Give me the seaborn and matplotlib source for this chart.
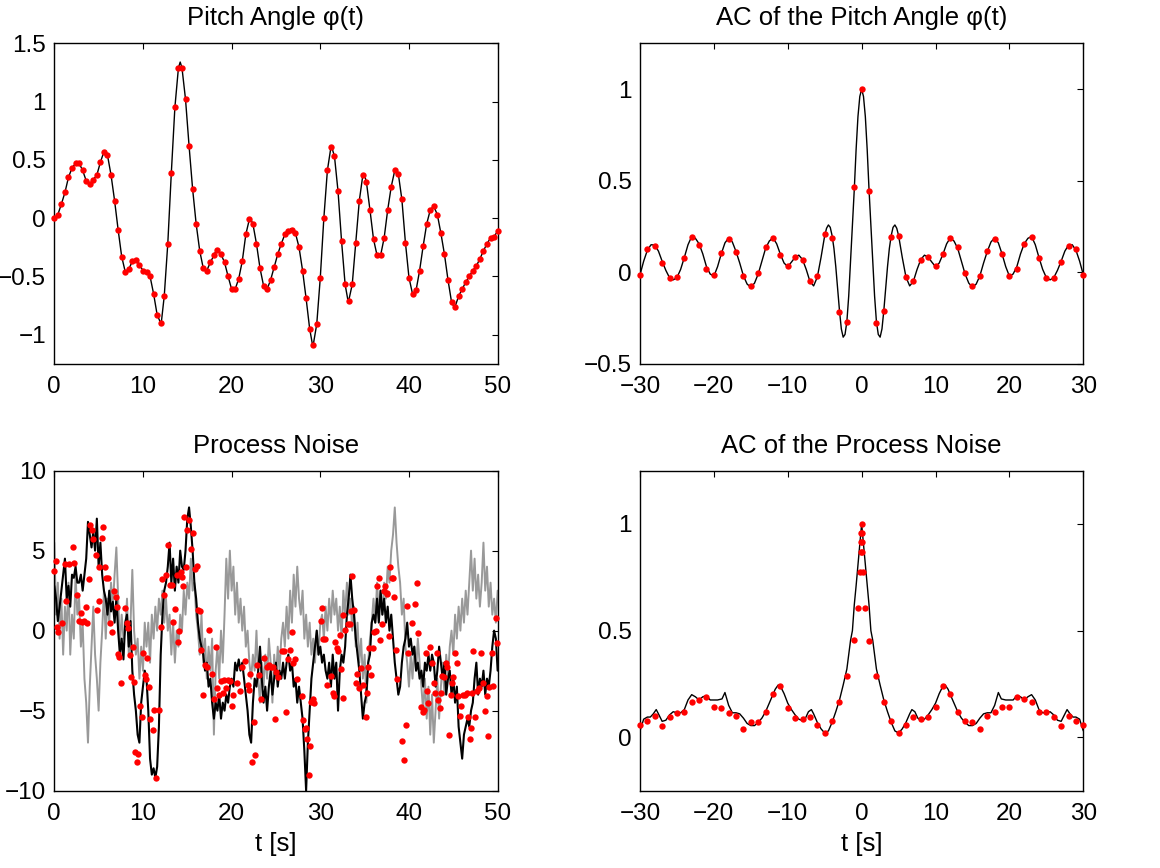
import numpy as np
import matplotlib
matplotlib.use("Agg")
import matplotlib.pyplot as plt
from matplotlib.ticker import FuncFormatter, FixedLocator
import seaborn as sns

# ---------------- data ----------------
# Pitch angle: red samples every 0.4 s (rows of 2 s)
pitch_dot_rows = [
    [0.00, 0.03, 0.12, 0.22, 0.35],
    [0.43, 0.47, 0.47, 0.41, 0.32],
    [0.29, 0.33, 0.37, 0.48, 0.57],
    [0.54, 0.37, 0.15, -0.10, -0.33],
    [-0.46, -0.44, -0.37, -0.36, -0.40],
    [-0.45, -0.46, -0.50, -0.65, -0.83],
    [-0.90, -0.67, -0.22, 0.39, 0.95],
    [1.29, 1.29, 1.02, 0.62, 0.25],
    [-0.05, -0.28, -0.43, -0.45, -0.38],
    [-0.32, -0.27, -0.31, -0.38, -0.50],
    [-0.61, -0.61, -0.52, -0.37, -0.14],
    [-0.01, -0.05, -0.22, -0.43, -0.58],
    [-0.61, -0.53, -0.42, -0.31, -0.22],
    [-0.14, -0.11, -0.10, -0.13, -0.25],
    [-0.45, -0.69, -0.95, -1.09, -0.91],
    [-0.51, 0.00, 0.41, 0.61, 0.53],
    [0.23, -0.20, -0.57, -0.71, -0.57],
    [-0.21, 0.15, 0.37, 0.31, 0.07],
    [-0.18, -0.32, -0.32, -0.17, 0.07],
    [0.27, 0.41, 0.38, 0.16, -0.21],
    [-0.51, -0.65, -0.62, -0.45, -0.24],
    [-0.05, 0.07, 0.10, 0.03, -0.13],
    [-0.31, -0.53, -0.72, -0.76, -0.67],
    [-0.61, -0.55, -0.50, -0.45, -0.41],
    [-0.35, -0.28, -0.22, -0.17, -0.16],
    [-0.11],
]
pitch_dot_step = 0.4
# extra points of the continuous curve (its extrema between samples)
pitch_peak_t = [2.6, 5.75, 9.1, 12.05, 14.2, 18.3, 20.2, 22.1, 23.9, 26.7,
                29.15, 31.25, 33.15, 34.95, 36.6, 38.55, 40.55, 42.75, 45.1]
pitch_peak_v = [0.48, 0.58, -0.37, -0.91, 1.34, -0.27, -0.62, 0.0, -0.62, -0.09,
                -1.10, 0.62, -0.72, 0.38, -0.33, 0.42, -0.66, 0.10, -0.765]

# AC of pitch angle: red samples at integer lags
ac_phi_dot_t = list(range(-30, 31))
ac_phi_dot_v = [
    -0.015, 0.127, 0.145, 0.05, -0.033, -0.027, 0.078, 0.19, 0.15, 0.015,
    -0.015, 0.105, 0.18, 0.11, -0.02, -0.078, -0.004, 0.14, 0.185, 0.095,
    0.036, 0.082, 0.067, -0.05, -0.022, 0.207, 0.187, -0.218, -0.273, 0.464,
    1.0,
    0.445, -0.278, -0.21, 0.193, 0.2, -0.027, -0.05, 0.069, 0.082, 0.036,
    0.098, 0.185, 0.136, -0.007, -0.078, -0.02, 0.113, 0.18, 0.1, -0.02,
    0.018, 0.155, 0.19, 0.076, -0.03, -0.03, 0.055, 0.145, 0.124, -0.018,
]
# AC of pitch angle: continuous curve
ac_phi_line_t = [
    -30, -29.5, -29, -28.5, -28, -27.5, -27, -26.5, -26, -25.5, -25, -24.5, -24,
    -23.5, -23, -22.5, -22, -21.5, -21, -20.5, -20, -19.5, -19, -18.5, -18,
    -17.5, -17, -16.5, -16, -15.5, -15, -14.5, -14, -13.5, -13, -12.5, -12,
    -11.5, -11, -10.5, -10, -9.5, -9, -8.5, -8, -7.5, -7, -6.5, -6, -5.5, -5,
    -4.75, -4.5, -4.25, -4, -3.75, -3.5, -3.25, -3, -2.75, -2.5, -2.25, -2,
    -1.75, -1.5, -1.25, -1, -0.75, -0.5, -0.25, 0,
    0.25, 0.5, 0.75, 1, 1.25, 1.5, 1.75, 2, 2.25, 2.5, 2.75, 3, 3.25, 3.5,
    3.75, 4, 4.25, 4.5, 4.75, 5, 5.5, 6, 6.5, 7, 7.5, 8, 8.5, 9, 9.5, 10,
    10.5, 11, 11.5, 12, 12.5, 13, 13.5, 14, 14.5, 15, 15.5, 16, 16.5, 17,
    17.5, 18, 18.5, 19, 19.5, 20, 20.5, 21, 21.5, 22, 22.5, 23, 23.5, 24,
    24.5, 25, 25.5, 26, 26.5, 27, 27.5, 28, 28.5, 29, 29.5, 30,
]
ac_phi_line_v = [
    -0.015, 0.06, 0.12, 0.15, 0.148, 0.115, 0.06, 0.01, -0.03, -0.042, -0.03,
    0.015, 0.08, 0.15, 0.195, 0.185, 0.155, 0.1, 0.03, -0.01, -0.022, 0.03,
    0.1, 0.16, 0.187, 0.165, 0.113, 0.05, -0.02, -0.065, -0.082, -0.06, -0.01,
    0.06, 0.13, 0.17, 0.188, 0.155, 0.098, 0.05, 0.03, 0.055, 0.082, 0.093,
    0.069, 0.015, -0.05, -0.075, -0.027, 0.08, 0.2,
    0.24, 0.258, 0.245, 0.2, 0.13, 0.03, -0.09, -0.21, -0.31, -0.355, -0.34,
    -0.27, -0.13, 0.06, 0.26, 0.45, 0.67, 0.85, 0.96, 1.0,
    0.96, 0.85, 0.67, 0.45, 0.26, 0.06, -0.13, -0.27, -0.34, -0.355, -0.31,
    -0.21, -0.09, 0.03, 0.13, 0.2, 0.245, 0.258, 0.24, 0.2, 0.08, -0.027,
    -0.075, -0.05, 0.015, 0.069, 0.093, 0.082, 0.055, 0.03, 0.05, 0.098, 0.155,
    0.188, 0.17, 0.13, 0.06, -0.01, -0.06, -0.082, -0.065, -0.02, 0.05, 0.113,
    0.165, 0.187, 0.16, 0.1, 0.03, -0.022, -0.01, 0.03, 0.1, 0.155, 0.185,
    0.195, 0.15, 0.08, 0.015, -0.03, -0.042, -0.03, 0.01, 0.06, 0.115, 0.148,
    0.15, 0.12, 0.06, -0.015,
]

# Process noise: curves sampled every 0.2 s (rows of 1 s)
noise_step = 0.2
noise_black_rows = [
    [2.8, 2.0, 0.6, 1.5, 2.5], [3.5, 4.5, 2.0, 2.8, 1.5], [3.5, 3.3, 4.0, 3.0, 3.0],
    [3.5, 2.5, 3.5, 4.5, 6.8], [6.0, 5.2, 6.2, 5.0, 7.0], [4.0, 5.5, 3.5, 2.5, 2.0],
    [1.0, 2.5, 1.2, 1.8, 0.5], [2.0, 0.0, -1.5, -0.5, -1.8], [0.5, 1.0, -1.0, 0.6, -2.5],
    [-4.0, -5.0, -6.5, -7.0, -4.5], [-3.5, -2.5, -3.0, -5.0, -8.0], [-9.0, -8.6, -9.2, -8.5, -6.0],
    [-1.5, 1.0, 2.5, 3.0, 4.0], [5.5, 3.0, 4.5, 2.5, 4.0], [3.0, 5.0, 4.0, 3.8, 5.0],
    [7.0, 7.7, 6.5, 5.0, 3.0], [2.0, 0.5, -0.5, -1.0, -1.5], [-2.5, -2.0, -3.5, -3.0, -4.5],
    [-5.5, -4.5, -5.0, -4.0, -5.5], [-4.5, -5.0, -4.0, -4.5, -3.5], [-3.0, -3.5, -2.0, -2.5, -1.8],
    [-2.5, -2.0, -3.0, -4.0, -5.0], [-6.5, -7.0, -4.5, -3.0, -3.5], [-2.5, -1.0, -3.0, -4.5, -3.5],
    [-5.0, -3.5, -2.5, -4.0, -3.0], [-2.0, -3.5, -2.5, -3.0, -2.0], [-3.0, -2.0, -1.5, -2.5, -2.0],
    [-3.5, -3.0, -4.5, -3.5, -4.5], [-5.5, -7.5, -10.0, -7.0, -5.0], [-3.0, -2.0, -1.0, 0.0, -1.5],
    [-1.0, -2.0, -1.5, -2.5, -3.0], [-2.0, -3.5, -1.5, -3.0, -2.0], [-5.0, -2.5, -1.5, -2.0, -1.0],
    [1.0, 2.0, 3.5, 2.0, 1.0], [-0.5, -1.5, -2.5, -4.0, -5.5], [-4.5, -4.0, -2.0, -1.5, 0.5],
    [1.0, 0.5, 2.0, 0.5, 2.5], [1.0, 2.0, 0.5, 1.5, 0.0], [1.0, -0.5, -2.0, -3.0, -4.0],
    [-3.5, -2.0, -1.0, -0.5, 0.5], [-1.0, -0.5, -1.5, -1.0, -2.5], [-2.0, -3.0, -2.5, -3.5, -2.0],
    [-2.5, -1.5, -2.5, -1.5, -2.0], [-3.5, -2.5, -1.0, -2.0, -3.0], [-2.0, -4.0, -3.0, -2.5, -4.0],
    [-3.0, -4.5, -3.5, -6.0, -7.0], [-8.0, -6.5, -6.0, -5.5, -6.0], [-5.0, -4.5, -3.0, -2.0, -4.0],
    [-3.0, -3.5, -2.5, -4.0, -3.0], [-3.5, -2.5, -1.0, 0.0, -0.5], [-2.5],
]
noise_gray_rows = [
    [5.5, 1.0, 3.0, -0.5, 2.0], [-1.5, 1.5, 0.0, 3.0, -1.5], [1.0, -0.5, 3.5, 1.0, 2.0],
    [-1.0, 0.5, -3.0, -4.5, -7.0], [-3.5, -1.0, 1.5, -1.5, -3.0], [-5.0, -2.0, 0.0, 2.5, -0.5],
    [2.0, 0.5, 3.0, 1.5, 3.5], [5.2, 2.0, -1.0, 1.0, -0.5], [0.0, 2.0, -1.5, 0.5, 3.8],
    [0.0, -1.5, -0.5, -3.0, -1.0], [-2.5, 0.5, -1.0, 0.5, -2.0], [1.0, -0.5, 1.5, 0.0, 2.0],
    [1.0, 2.5, 0.5, 2.0, 0.0], [1.0, -1.5, 0.5, -2.0, 0.0], [-1.0, 1.0, 0.0, 2.5, 1.0],
    [3.0, 2.0, 4.5, 2.5, 3.0], [1.0, 0.0, -1.5, 1.0, -2.0], [-0.5, -3.0, -1.0, -2.5, -0.5],
    [-6.5, -2.5, -1.0, -3.0, 0.0], [-2.0, 1.0, 4.5, 2.0, 5.0], [2.5, 4.0, 1.0, 3.0, 0.5],
    [2.0, 0.0, 1.5, -1.0, 0.0], [-2.0, -3.0, -1.5, -2.5, 0.0], [-3.0, -4.5, -2.0, -3.5, -1.5],
    [-3.0, -0.5, -2.0, -4.5, -1.5], [-3.0, -1.0, -2.5, -0.5, 0.5], [-1.0, 1.5, -0.5, 2.5, 0.5],
    [3.5, 1.5, 4.0, 2.0, 1.0], [2.5, -0.5, 1.0, -1.0, 0.5], [-1.5, -0.5, -2.0, 0.0, -1.5],
    [0.5, 1.0, -0.5, 1.5, 0.0], [2.0, 0.5, 2.5, 1.0, 2.0], [0.0, 1.5, -0.5, 2.5, 1.0],
    [3.0, 1.0, 2.0, 0.0, 1.5], [-1.0, 0.5, -2.0, -0.5, -3.0], [-1.5, -4.5, -2.0, -0.5, 0.5],
    [2.0, 0.5, 3.0, 1.0, 2.5], [1.0, 3.0, 2.0, 4.0, 3.0], [5.0, 6.0, 7.7, 5.5, 4.0],
    [3.0, 1.0, 2.0, -1.0, -2.0], [-3.5, -1.5, -3.0, -1.0, -2.5], [-0.5, -2.0, -3.5, -5.0, -3.0],
    [-5.5, -3.5, -6.5, -4.0, -7.0], [-5.0, -3.0, -5.5, -3.5, -2.0], [-4.0, -1.5, -3.0, -1.0, 0.0],
    [-1.5, 1.0, -0.5, 1.5, 0.0], [2.0, 0.5, 2.5, 1.0, 3.0], [5.0, 2.5, 4.5, 2.0, 3.5],
    [1.5, 3.0, 5.5, 2.5, 4.0], [1.5, 3.0, 1.0, 2.0, 0.5], [2.5],
]
noise_dot_t = [
    0.0, 0.15, 0.26, 0.45, 0.9, 1.24, 1.28, 1.65, 2.07, 2.22, 2.59, 2.74, 2.97,
    3.16, 3.31, 3.57, 3.72, 3.87, 4.02, 4.21, 4.36, 4.70, 4.81, 5.0, 5.08, 5.34,
    5.53, 5.71, 5.83, 6.09, 6.28, 6.47, 6.69, 6.92, 7.11, 7.22, 7.33, 7.48, 7.97,
    8.16, 8.31, 8.53, 8.65, 8.83, 8.98, 9.14, 9.29, 9.44, 9.66, 9.92, 10.04,
    10.26, 10.34, 10.49, 10.68, 10.79, 11.09, 11.24, 11.47, 11.84, 11.99, 12.18,
    12.41, 12.56, 12.78, 13.05, 13.27, 13.35, 13.57, 13.87, 13.98, 14.10, 14.25,
    14.40, 14.51, 14.66, 14.85, 15.0, 15.23, 15.41, 15.60, 15.90, 16.05, 16.24,
    16.39, 16.58, 16.80, 16.95, 17.18, 17.41, 17.78, 18.01, 18.23, 18.38, 18.53,
    18.80, 18.98, 19.14, 19.32, 19.59, 19.81, 20.08, 20.19, 20.60, 20.94, 21.20,
    21.54, 21.84, 21.92, 22.03, 22.26, 22.52, 22.67, 22.86, 23.05, 23.31, 23.68,
    23.95, 24.17, 24.47, 24.62, 24.85, 25.04, 25.26, 25.64, 25.90, 26.13, 26.35,
    26.58, 26.80, 26.88, 27.11, 27.41, 27.89, 28.08, 28.23, 28.35, 28.46, 28.68,
    28.80, 28.98, 29.14, 29.25, 30.08, 30.15, 30.34, 30.49, 30.71, 31.20, 31.47,
    31.58, 31.65, 31.84, 32.03, 32.18, 32.37, 32.52, 32.59, 32.82, 33.08, 33.31,
    33.42, 33.61, 33.83, 34.02, 34.17, 34.40, 34.62, 34.85, 35.11, 35.23, 35.38,
    35.49, 35.68, 35.90, 36.05, 36.24, 36.39, 36.62, 36.73, 36.99, 37.18, 37.33,
    37.48, 37.56, 37.71, 37.86, 38.08, 38.23, 38.35, 38.53, 38.68, 39.25, 39.47,
    39.62, 39.81, 39.92, 40.38, 40.68, 40.94, 41.05, 41.39, 41.58, 41.65, 41.92,
    42.07, 42.18, 42.37, 42.56, 42.82, 42.97, 43.12, 43.27, 43.46, 43.61, 43.76,
    43.98, 44.14, 44.25, 44.47, 44.70, 44.81, 45.0, 45.15, 45.38, 45.56, 45.75,
    45.86, 46.05, 46.32, 46.50, 46.65, 46.84, 46.95, 47.07, 47.26, 47.44, 47.71,
    47.90, 48.12, 48.31, 48.57, 48.76, 48.95, 49.06, 49.32, 49.51, 49.77, 49.89,
]
noise_dot_v = [
    3.75, 4.35, 0.2, -0.1, 0.5, 4.15, 1.85, 4.15, 5.2, 4.2, 2.2, 0.6, 1.1,
    0.55, 0.6, 1.5, 0.5, 3.2, 6.6, 6.3, 5.7, 4.7, 1.3, 4.0, 1.85, 5.8,
    6.5, 4.0, 3.3, 3.3, 0.5, -0.06, 2.45, 2.1, 1.5, -1.45, -1.65, -3.3, 1.4,
    0.45, 0.15, -1.5, -2.9, -1.0, -3.2, -7.6, -8.2, -7.7, -4.7, -5.4, -1.4,
    -2.8, -3.0, -1.7, -3.5, -5.5, -6.2, -4.95, -9.2, -4.95, 0.2, 3.2,
    2.2, 3.5, 5.35, 2.85, 2.85, 0.55, 1.35, 3.45, -0.7, -0.02, 3.65,
    3.35, 2.8, 7.1, 3.95, 6.3, 6.9, 5.1, 6.1, 3.85, 4.05, 1.3,
    1.25, -1.2, -4.05, -2.15, -2.25, 0.05, -2.7, -4.3, -1.05, -3.6, -4.0,
    -3.15, -3.9, -3.1, -3.6, -3.1, -3.15, -4.7, -4.05, -3.3, -3.8, -2.3,
    -1.9, -3.4, -3.7, -2.7, -8.2, -5.7, -7.8, -2.15, -2.8, -4.3, -1.7,
    -2.3, -2.15, -2.3, -2.3, -5.55, -2.6, -2.9, -1.3, -1.3, -5.1, -1.8,
    -1.2, -0.1, -2.0, -1.8, -3.05, -4.1, -5.6, -6.15, -6.1, -6.75, -9.0,
    -7.2, -4.45, -4.3, -4.5, 0.6, 1.4, -0.5, -0.5, -3.4, -2.85, -3.9,
    -4.1, -0.7, -1.1, -1.25, -0.3, -2.4, -4.2, 1.0, 0.05, 0.4, 0.4,
    1.2, 3.4, 1.3, -3.3, -2.7, -3.6, -2.35, -3.4, -5.4, -3.9, -2.3,
    -1.1, -2.8, -1.1, -0.1, -0.05, 2.8, 3.3, -0.6, 0.4, 2.5, 2.8,
    2.3, 2.35, -0.35, 3.95, 3.3, 3.3, 2.1, -1.2, -3.0, -6.9, -8.1,
    -5.9, 1.55, -1.4, 0.45, 1.65, 3.0, -0.15, -4.75, -5.1, -4.95, -1.4,
    -3.8, -4.5, -1.05, -2.0, -3.3, -3.9, -1.4, -4.35, -4.85, -3.9, -2.85,
    -2.9, -2.05, -2.3, -6.5, -4.05, -3.3, -2.9, -1.4, -2.05, -4.1, -5.35,
    -4.7, -4.05, -4.05, -3.9, -5.4, -6.8, -6.1, -3.9, -1.25, -5.4, -3.8,
    -3.6, -1.4, -3.3, -5.05, -4.1, -6.6, -3.5, -1.4, -3.45, 0.8, -0.8,
]

# AC of process noise
ac_noise_dot_t = list(range(-30, 0)) + [-0.5, -0.2, -0.1, -0.06, -0.03, 0,
                                        0.03, 0.06, 0.1, 0.2, 0.5] + list(range(1, 31))
ac_noise_dot_v = [
    0.059, 0.078, 0.1, 0.053, 0.097, 0.116, 0.12, 0.167, 0.173, 0.188,
    0.144, 0.139, 0.116, 0.1, 0.039, 0.07, 0.073, 0.119, 0.203, 0.239,
    0.139, 0.092, 0.0875, 0.097, 0.056, 0.02, 0.077, 0.166, 0.289, 0.456,
    0.605, 0.773, 0.869, 0.916, 0.956, 1.0, 0.956, 0.916, 0.869, 0.773, 0.605,
    0.452, 0.289, 0.167, 0.077, 0.022, 0.058, 0.094, 0.0875, 0.094, 0.141,
    0.24, 0.205, 0.12, 0.075, 0.07, 0.039, 0.1, 0.119, 0.141, 0.144,
    0.188, 0.178, 0.167, 0.12, 0.119, 0.097, 0.053, 0.1, 0.078, 0.059,
]
ac_noise_line_t = [
    -30, -29.5, -29, -28.6, -28.2, -27.8, -27.5, -27, -26.5, -26, -25.5, -25,
    -24.5, -24, -23.5, -23, -22.5, -22, -21.5, -21, -20.5, -20, -19.5, -18.9,
    -18.5, -18, -17.5, -17, -16.5, -16, -15.5, -15, -14.5, -14, -13.5, -13,
    -12.5, -12, -11.7, -11.3, -11, -10.5, -10, -9.5, -9, -8.5, -8, -7.6, -7.2,
    -6.8, -6.5, -6, -5.5, -5, -4.5, -4, -3.5, -3, -2.5, -2, -1.5, -1.25, -1,
    -0.75, -0.5, -0.25, 0,
    0.25, 0.5, 0.75, 1, 1.25, 1.5, 2, 2.5, 3, 3.5, 4, 4.5, 5, 5.5, 6, 6.5,
    6.8, 7.2, 7.6, 8, 8.5, 9, 9.5, 10, 10.5, 11, 11.3, 11.7, 12, 12.5, 13,
    13.5, 14, 14.5, 15, 15.5, 16, 16.5, 17, 17.5, 18, 18.5, 18.9, 19.5, 20,
    20.5, 21, 21.5, 22, 22.5, 23, 23.5, 24, 24.5, 25, 25.5, 26, 26.5, 27,
    27.5, 27.8, 28.2, 28.6, 29, 29.5, 30,
]
ac_noise_line_v = [
    0.03, 0.085, 0.095, 0.095, 0.11, 0.13, 0.11, 0.075, 0.08, 0.105, 0.12, 0.115,
    0.115, 0.13, 0.175, 0.2, 0.19, 0.175, 0.19, 0.195, 0.175, 0.175, 0.175, 0.18,
    0.21, 0.15, 0.115, 0.115, 0.11, 0.09, 0.065, 0.055, 0.055, 0.07, 0.09, 0.12,
    0.16, 0.2, 0.225, 0.245, 0.24, 0.205, 0.16, 0.13, 0.105, 0.085, 0.078, 0.09, 0.12,
    0.13, 0.11, 0.07, 0.04, 0.02, 0.03, 0.07, 0.12, 0.175, 0.245, 0.32, 0.455, 0.5, 0.62,
    0.71, 0.81, 0.905, 1.0,
    0.905, 0.81, 0.71, 0.62, 0.5, 0.455, 0.32, 0.245, 0.175, 0.12, 0.07, 0.03, 0.02,
    0.04, 0.07, 0.11, 0.13, 0.12, 0.09, 0.078, 0.085, 0.105, 0.13, 0.16, 0.205,
    0.24, 0.245, 0.225, 0.2, 0.16, 0.12, 0.09, 0.07, 0.055, 0.055, 0.065, 0.09,
    0.11, 0.115, 0.115, 0.15, 0.21, 0.18, 0.175, 0.175, 0.175, 0.195, 0.19,
    0.175, 0.19, 0.2, 0.175, 0.13, 0.115, 0.115, 0.12, 0.105, 0.08, 0.075, 0.11,
    0.13, 0.11, 0.095, 0.095, 0.085, 0.03,
]

titles = ["Pitch Angle \u03c6(t)", "AC of the Pitch Angle \u03c6(t)",
          "Process Noise", "AC of the Process Noise"]
xlabel_text = "t [s]"

# ---------------- style ----------------
sns.set_style("white")
plt.rcParams.update({
    "font.family": ["Liberation Sans", "DejaVu Sans"],
    "font.size": 17.5,
    "text.color": "black",
    "axes.labelcolor": "black",
    "axes.titlecolor": "black",
    "axes.edgecolor": "black",
    "axes.linewidth": 1.0,
    "xtick.direction": "in",
    "ytick.direction": "in",
    "xtick.top": True,
    "ytick.right": True,
    "xtick.major.size": 4,
    "ytick.major.size": 4,
    "xtick.major.width": 0.8,
    "ytick.major.width": 0.8,
    "xtick.color": "black",
    "ytick.color": "black",
    "xtick.labelcolor": "black",
    "ytick.labelcolor": "black",
    "xtick.labelsize": 17.5,
    "ytick.labelsize": 17.5,
    "axes.titlesize": 18.5,
    "axes.labelsize": 18.5,
})

fig = plt.figure(figsize=(11.6, 8.68), dpi=100)
ax_tl = fig.add_axes([0.0468, 0.581, 0.3822, 0.369])
ax_tr = fig.add_axes([0.5517, 0.581, 0.3822, 0.369])
ax_bl = fig.add_axes([0.0468, 0.0891, 0.3822, 0.3687])
ax_br = fig.add_axes([0.5517, 0.0891, 0.3822, 0.3687])

RED = "#ff0000"
GRAY = "#999999"
DOT_S = 21
LW = 1.0

fmt = FuncFormatter(lambda v, p: f"{v:g}".replace("-", "\u2212"))

# --- top left ---
pitch_dot_v = np.concatenate([np.array(r, float) for r in pitch_dot_rows])
pitch_dot_t = np.arange(len(pitch_dot_v)) * pitch_dot_step
line_t = np.concatenate([pitch_dot_t, pitch_peak_t])
line_v = np.concatenate([pitch_dot_v, pitch_peak_v])
order = np.argsort(line_t)
sns.lineplot(x=line_t[order], y=line_v[order], ax=ax_tl, color="black", lw=LW,
             estimator=None, sort=False)
sns.scatterplot(x=pitch_dot_t, y=pitch_dot_v, ax=ax_tl, color=RED, s=DOT_S,
                linewidth=0, zorder=3, clip_on=False)
ax_tl.set_xlim(0, 50)
ax_tl.set_ylim(-1.25, 1.5)
ax_tl.xaxis.set_major_locator(FixedLocator([0, 10, 20, 30, 40, 50]))
ax_tl.yaxis.set_major_locator(FixedLocator([-1, -0.5, 0, 0.5, 1, 1.5]))

# --- top right ---
sns.lineplot(x=ac_phi_line_t, y=ac_phi_line_v, ax=ax_tr, color="black", lw=LW,
             estimator=None, sort=False)
sns.scatterplot(x=ac_phi_dot_t, y=ac_phi_dot_v, ax=ax_tr, color=RED, s=DOT_S,
                linewidth=0, zorder=3, clip_on=False)
ax_tr.set_xlim(-30, 30)
ax_tr.set_ylim(-0.5, 1.25)
ax_tr.xaxis.set_major_locator(FixedLocator([-30, -20, -10, 0, 10, 20, 30]))
ax_tr.yaxis.set_major_locator(FixedLocator([-0.5, 0, 0.5, 1]))

# --- bottom left ---
gray_v = np.concatenate([np.array(r, float) for r in noise_gray_rows])
black_v = np.concatenate([np.array(r, float) for r in noise_black_rows])
gray_t = np.arange(len(gray_v)) * noise_step
black_t = np.arange(len(black_v)) * noise_step
sns.lineplot(x=gray_t, y=gray_v, ax=ax_bl, color=GRAY, lw=1.4,
             estimator=None, sort=False, zorder=1)
sns.lineplot(x=black_t, y=black_v, ax=ax_bl, color="black", lw=1.5,
             estimator=None, sort=False, zorder=2)
sns.scatterplot(x=noise_dot_t, y=noise_dot_v, ax=ax_bl, color=RED, s=DOT_S,
                linewidth=0, zorder=3, clip_on=False)
ax_bl.set_xlim(0, 50)
ax_bl.set_ylim(-10, 10)
ax_bl.xaxis.set_major_locator(FixedLocator([0, 10, 20, 30, 40, 50]))
ax_bl.yaxis.set_major_locator(FixedLocator([-10, -5, 0, 5, 10]))

# --- bottom right ---
sns.lineplot(x=ac_noise_line_t, y=ac_noise_line_v, ax=ax_br, color="black", lw=LW,
             estimator=None, sort=False)
sns.scatterplot(x=ac_noise_dot_t, y=ac_noise_dot_v, ax=ax_br, color=RED, s=DOT_S,
                linewidth=0, zorder=3, clip_on=False)
ax_br.set_xlim(-30, 30)
ax_br.set_ylim(-0.25, 1.25)
ax_br.xaxis.set_major_locator(FixedLocator([-30, -20, -10, 0, 10, 20, 30]))
ax_br.yaxis.set_major_locator(FixedLocator([0, 0.5, 1]))

for ax, title in zip([ax_tl, ax_tr, ax_bl, ax_br], titles):
    ax.set_title(title, pad=13)
    ax.xaxis.set_major_formatter(fmt)
    ax.yaxis.set_major_formatter(fmt)
    ax.tick_params(axis="x", which="major", pad=9)
    ax.tick_params(axis="y", which="major", pad=6)
    ax.set_xlabel("")
    ax.set_ylabel("")
    for sp in ax.spines.values():
        sp.set_visible(True)
        sp.set_color("black")
        sp.set_linewidth(1.0)

ax_bl.set_xlabel(xlabel_text, labelpad=5)
ax_br.set_xlabel(xlabel_text, labelpad=5)

fig.savefig("out.png", dpi=100)
